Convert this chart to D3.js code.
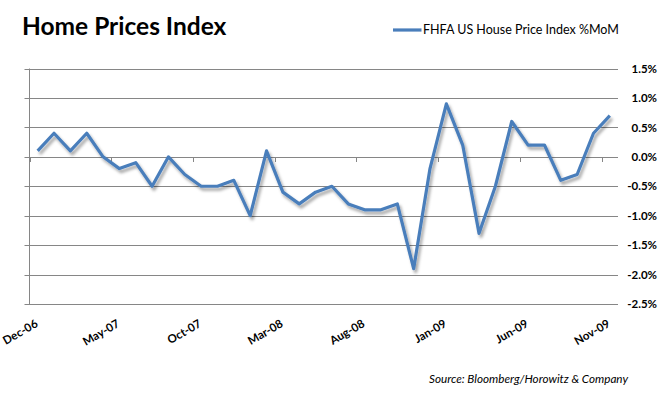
<!DOCTYPE html>
<html>
<head>
<meta charset="utf-8">
<script src="https://cdn.jsdelivr.net/npm/d3@7"></script>
<style>
  body { margin: 0; background: #fff; }
  svg { display: block; font-family: Lato, "Open Sans", sans-serif; }
</style>
</head>
<body>
<div id="chart"></div>
<script>
// monthly categories Dec-06 .. Nov-09
const months = [
  "Dec-06", "Jan-07", "Feb-07", "Mar-07", "Apr-07", "May-07", "Jun-07", "Jul-07", "Aug-07",
  "Sep-07", "Oct-07", "Nov-07", "Dec-07", "Jan-08", "Feb-08", "Mar-08", "Apr-08", "May-08",
  "Jun-08", "Jul-08", "Aug-08", "Sep-08", "Oct-08", "Nov-08", "Dec-08", "Jan-09", "Feb-09",
  "Mar-09", "Apr-09", "May-09", "Jun-09", "Jul-09", "Aug-09", "Sep-09", "Oct-09", "Nov-09"
];
// FHFA US House Price Index %MoM
const hpiMoM = [
  0.1, 0.4, 0.1, 0.4, 0.0, -0.2, -0.1, -0.5, 0.0, -0.3, -0.5, -0.5,
  -0.4, -1.0, 0.1, -0.6, -0.8, -0.6, -0.5, -0.8, -0.9, -0.9, -0.8, -1.9,
  -0.2, 0.9, 0.2, -1.3, -0.5, 0.6, 0.2, 0.2, -0.4, -0.3, 0.4, 0.7
];
const yTicks = [1.5, 1.0, 0.5, 0.0, -0.5, -1.0, -1.5, -2.0, -2.5];
const xLabelMonths = ["Dec-06", "May-07", "Oct-07", "Mar-08", "Aug-08", "Jan-09", "Jun-09", "Nov-09"];

const title = "Home Prices Index";
const seriesName = "FHFA US House Price Index %MoM";
const source = "Source: Bloomberg/Horowitz & Company";

const width = 668, height = 394;
const plot = { left: 29.5, right: 618, top: 68.5, bottom: 304 };
const lineColor = "#4a7ebb";
const gridColor = "#868686";

const svg = d3.select("#chart").append("svg")
  .attr("width", width)
  .attr("height", height);

// drop shadow like the excel line
const defs = svg.append("defs");
defs.append("filter")
  .attr("id", "shadow")
  .attr("x", "-10%").attr("y", "-10%")
  .attr("width", "120%").attr("height", "130%")
  .append("feDropShadow")
  .attr("dx", 2).attr("dy", 3)
  .attr("stdDeviation", 1.4)
  .attr("flood-color", "#000")
  .attr("flood-opacity", 0.35);

const x = d3.scaleBand()
  .domain(months)
  .range([plot.left, plot.right]);

const y = d3.scaleLinear()
  .domain([-2.5, 1.5])
  .range([plot.bottom, plot.top]);

// horizontal gridlines (stick out left as small ticks)
svg.append("g")
  .selectAll("line")
  .data(yTicks)
  .join("line")
  .attr("x1", plot.left - 5)
  .attr("x2", plot.right)
  .attr("y1", d => Math.round(y(d)) + 0.5)
  .attr("y2", d => Math.round(y(d)) + 0.5)
  .attr("stroke", gridColor)
  .attr("stroke-width", 1);

// left value axis line
svg.append("line")
  .attr("x1", plot.left).attr("x2", plot.left)
  .attr("y1", y(1.5)).attr("y2", y(-2.5) + 0.5)
  .attr("stroke", gridColor);

// category tick marks along the zero line, every 5 months
const tickIdx = d3.range(0, months.length + 1, 5);
svg.append("g")
  .selectAll("line")
  .data(tickIdx)
  .join("line")
  .attr("x1", i => Math.round(plot.left + i * x.step()) + 0.5)
  .attr("x2", i => Math.round(plot.left + i * x.step()) + 0.5)
  .attr("y1", Math.round(y(0)) + 0.5)
  .attr("y2", Math.round(y(0)) + 5)
  .attr("stroke", gridColor);

// value labels on the right
svg.append("g")
  .selectAll("text")
  .data(yTicks)
  .join("text")
  .attr("x", 657)
  .attr("y", d => y(d))
  .attr("dy", "0.36em")
  .attr("text-anchor", "end")
  .attr("font-size", 11.5)
  .attr("font-weight", "bold")
  .attr("fill", "#000")
  .text(d => d3.format(".1f")(d).replace("−", "-") + "%");

// rotated month labels
svg.append("g")
  .selectAll("text")
  .data(xLabelMonths)
  .join("text")
  .attr("transform", d => `translate(${x(d) + x.bandwidth() / 2 + 1},326) rotate(-30)`)
  .attr("text-anchor", "end")
  .attr("font-size", 11.5)
  .attr("font-weight", "bold")
  .attr("fill", "#000")
  .text(d => d);

// the series line
const line = d3.line()
  .x((d, i) => x(months[i]) + x.bandwidth() / 2)
  .y(d => y(d));

svg.append("path")
  .datum(hpiMoM)
  .attr("d", line)
  .attr("fill", "none")
  .attr("stroke", lineColor)
  .attr("stroke-width", 3.2)
  .attr("stroke-linejoin", "round")
  .attr("filter", "url(#shadow)");

// title
svg.append("text")
  .attr("x", 22)
  .attr("y", 35)
  .attr("font-size", 24.5)
  .attr("font-weight", "bold")
  .attr("fill", "#000")
  .text(title);

// legend
svg.append("line")
  .attr("x1", 393).attr("x2", 421.5)
  .attr("y1", 30).attr("y2", 30)
  .attr("stroke", lineColor)
  .attr("stroke-width", 3.2);

svg.append("text")
  .attr("x", 423)
  .attr("y", 34)
  .attr("font-size", 12.5)
  .attr("fill", "#000")
  .text(seriesName);

// source note
svg.append("text")
  .attr("x", 429)
  .attr("y", 383)
  .attr("font-size", 11.7)
  .attr("font-style", "italic")
  .attr("fill", "#000")
  .text(source);
</script>
</body>
</html>
